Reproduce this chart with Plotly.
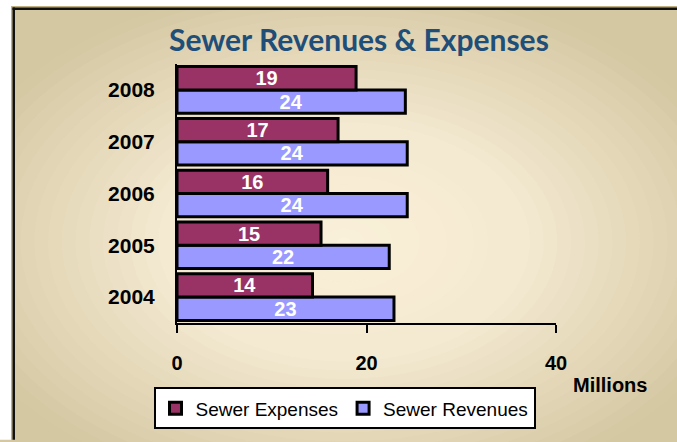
import plotly.graph_objects as go

# ---- data ----
years = ["2004", "2005", "2006", "2007", "2008"]
expenses = [14.3, 15.2, 15.9, 17.0, 18.9]
revenues = [22.9, 22.4, 24.3, 24.3, 24.1]
x_ticks = [0, 20, 40]
title_text = "Sewer Revenues & Expenses"
unit_text = "Millions"

W, H = 677, 442
L, R, T, B = 177, 556, 64, 328  # plot area in pixels
pw, ph = R - L, B - T


def px_x(p):
    return (p - L) / pw


def px_y(p):
    return (B - p) / ph


def rect(x0, y0, x1, y1, color, opacity=1.0):
    return dict(type="rect", xref="paper", yref="paper", layer="below",
                x0=px_x(x0), x1=px_x(x1), y0=px_y(y0), y1=px_y(y1),
                fillcolor=color, opacity=opacity, line=dict(width=0))


# ---- background decoration: beige frame with radial light centre ----
fx, fy = 11, 5
EDGE, LIGHT = "#d4c8a3", "#fbf2dc"
cx, cy = fx + (W - fx) * 0.5, fy + (H - fy) * 0.55
rx, ry = (W - fx) * 0.62, (H - fy) * 0.62
stops = [(1.0, 0.0), (0.85, 0.26), (0.45, 0.87), (0.0, 1.0)]


def blend(f):
    for (f0, b0), (f1, b1) in zip(stops, stops[1:]):
        if f1 <= f <= f0:
            return b0 + (b1 - b0) * (f0 - f) / (f0 - f1)
    return 1.0


shapes = [rect(fx, fy, W + 5, H + 5, EDGE)]
prev = 0.0
n = 30
for i in range(1, n + 1):
    f = 1.0 - (i - 0.5) / n
    b = min(blend(f), 0.999) if i < n else 1.0
    o = 1 - (1 - b) / (1 - prev)
    prev = b
    shapes.append(dict(type="circle", xref="paper", yref="paper", layer="below",
                       x0=px_x(cx - rx * f), x1=px_x(cx + rx * f),
                       y0=px_y(cy + ry * f), y1=px_y(cy - ry * f),
                       fillcolor=LIGHT, opacity=max(min(o, 1), 0), line=dict(width=0)))
shapes += [
    rect(-5, -5, fx, H + 5, "white"),
    rect(-5, -5, W + 5, fy, "white"),
    rect(fx, fy, fx + 1.5, H + 5, "#c2b283"),
    rect(fx, fy, W + 5, fy + 1.5, "#c2b283"),
    rect(fx + 1.5, fy + 1.5, fx + 4, H + 5, "#111111"),
    rect(fx + 1.5, fy + 1.5, W + 5, fy + 4, "#111111"),
]

fig = go.Figure()
fig.add_trace(go.Bar(
    y=years, x=revenues, name="Sewer Revenues", orientation="h",
    marker=dict(color="#9999FF", line=dict(color="black", width=3)),
    texttemplate="%{x:.0f}", textposition="inside", insidetextanchor="middle",
    constraintext="none",
    textfont=dict(family="Arial", size=20, color="white", weight="bold"),
    legendrank=2,
))
fig.add_trace(go.Bar(
    y=years, x=expenses, name="Sewer Expenses", orientation="h",
    marker=dict(color="#993366", line=dict(color="black", width=3)),
    texttemplate="%{x:.0f}", textposition="inside", insidetextanchor="middle",
    constraintext="none",
    textfont=dict(family="Arial", size=20, color="white", weight="bold"),
    legendrank=1,
))

fig.update_layout(
    width=W, height=H,
    margin=dict(l=L, r=W - R, t=T, b=H - B, pad=0),
    paper_bgcolor=EDGE, plot_bgcolor="rgba(0,0,0,0)",
    barmode="group", bargap=0.1, bargroupgap=0,
    showlegend=True,
    legend=dict(orientation="h", x=px_x(344.5), y=px_y(415), xanchor="center", yanchor="middle",
                bgcolor="white", bordercolor="black", borderwidth=2,
                font=dict(family="Arial", size=19, color="black")),
    xaxis=dict(range=[0, 40], tickvals=x_ticks, showgrid=False, zeroline=False,
               showline=True, linecolor="black", linewidth=2,
               ticks="outside", ticklen=8, tickwidth=2, tickcolor="black",
               ticklabelstandoff=13,
               tickfont=dict(family="Arial", size=20, color="black", weight="bold")),
    yaxis=dict(categoryorder="array", categoryarray=years, showgrid=False, zeroline=False,
               showline=True, linecolor="black", linewidth=2, ticks="",
               ticklabelstandoff=16,
               tickfont=dict(family="Arial", size=21, color="black", weight="bold")),
    shapes=shapes,
    annotations=[
        dict(text=title_text, xref="paper", yref="paper", x=px_x(359), y=px_y(39),
             xanchor="center", yanchor="middle", showarrow=False,
             font=dict(family="Lato", size=30, color="#1F4E79", weight="bold")),
        dict(text=unit_text, xref="paper", yref="paper", x=px_x(610), y=px_y(391),
             xanchor="center", yanchor="middle", showarrow=False,
             font=dict(family="Arial", size=20, color="black", weight="bold")),
    ],
)

fig.write_html(
    "out.html",
    config={"displayModeBar": False},
    post_script="document.body.style.margin='0';document.body.style.overflow='hidden';",
)
